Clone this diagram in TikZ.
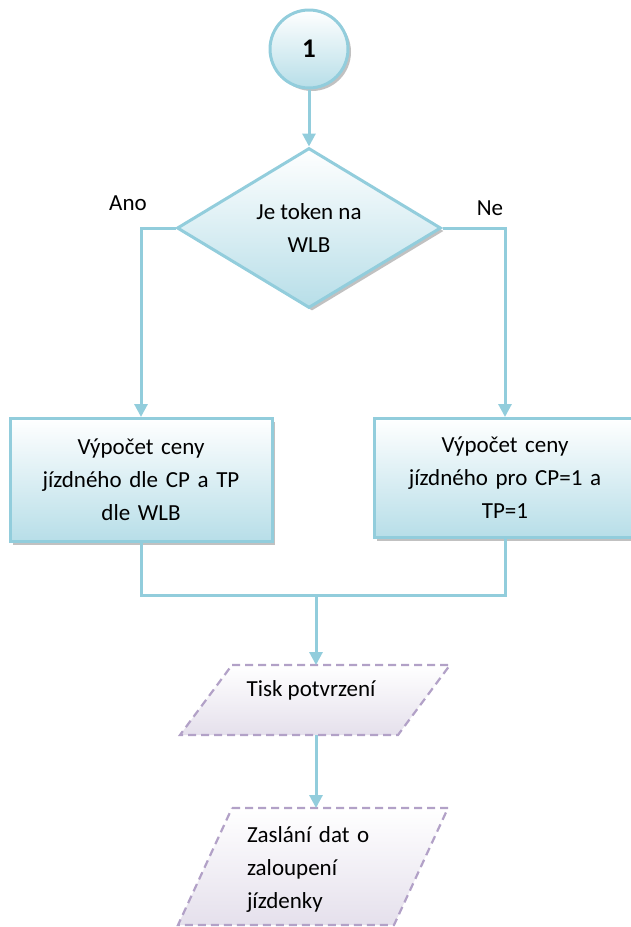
\documentclass[tikz,border=0pt]{standalone}
\usepackage{fontspec}
\setmainfont{Carlito}
\usetikzlibrary{shapes.geometric,shadows,arrows.meta}
\definecolor{bl}{HTML}{92CDDC}
\definecolor{blf}{HTML}{B7DEE8}
\definecolor{pu}{HTML}{B2A1C7}
\definecolor{puf}{HTML}{E5E0EC}
\begin{document}
\begin{tikzpicture}[x=1pt,y=-1pt,
  every node/.style={font=\fontsize{23}{33}\selectfont, text=black},
  blueshape/.style={draw=bl, line width=3pt, top color=white, bottom color=blf,
    drop shadow={shadow xshift=3pt, shadow yshift=-3pt, fill=gray!60, opacity=0.8}},
  procbox/.style={blueshape, rectangle, minimum width=262pt, text width=245pt, align=center, inner sep=0pt},
  conn/.style={draw=bl, line width=3pt},
  arr/.style={conn, -{Triangle[width=13pt,length=13pt]}},
  iobox/.style={draw=pu, line width=2.2pt, dash pattern=on 8pt off 5pt, top color=white, bottom color=puf}
]
\useasboundingbox (0,0) rectangle (630,927);

\node[blueshape, circle, minimum size=78pt, inner sep=0pt, font=\fontsize{27}{27}\selectfont\bfseries] (c) at (309,49) {1};

\node[blueshape, diamond, aspect=1.65, minimum width=264pt, minimum height=160pt, inner sep=0pt, align=center] (d) at (309,228) {Je token na\\WLB};

\node[procbox, minimum height=123pt] (l) at (141,480) {Výpočet ceny\\jízdného dle CP a TP\\dle WLB};
\node[procbox, minimum height=119pt] (r) at (505,478) {Výpočet ceny\\jízdného pro CP=1 a\\TP=1};

% parallelograms
\path[iobox] (232,665) -- (450,665) -- (398,735) -- (180,735) -- cycle;
\path[iobox] (232,808) -- (448,808) -- (394,925) -- (178,925) -- cycle;
\node (p1) at (311,690) {Tisk potvrzení};
\node[text width=126pt, align=left, inner sep=0pt] (p2) at (310,869) {Zaslání dat o\\zaloupení\\jízdenky};
\coordinate (p1t) at (316,665);
\coordinate (p1b) at (316,735);
\coordinate (p2t) at (316,808);

\node (ano) at (128,203) {Ano};
\node (ne) at (490,208) {Ne};

\coordinate (m) at (316,595);
\draw[arr] (c) -- (d);
\draw[arr] (d.west) -| (l.north);
\draw[arr] (d.east) -| (r.north);
\draw[conn] (l.south) |- (m) -| (r.south);
\draw[arr] (m) -- (p1t);
\draw[arr] (p1b) -- (p2t);
\end{tikzpicture}
\end{document}
